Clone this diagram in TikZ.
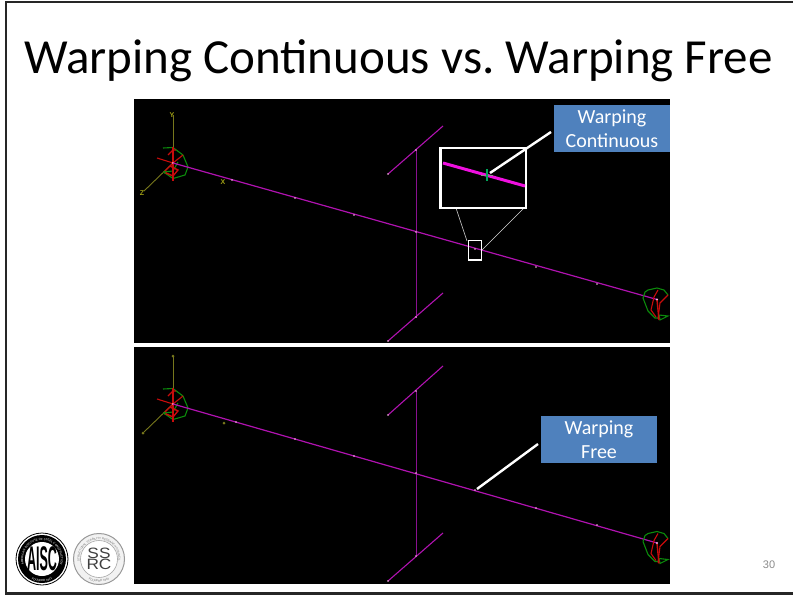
\documentclass[tikz,border=0pt]{standalone}
\usepackage{fontspec}
\setmainfont{Carlito}
\newfontfamily\arialfont{Liberation Sans}
\usepackage{tikz}
\usetikzlibrary{positioning,decorations.text}
\definecolor{beam}{HTML}{B012B0}
\definecolor{postbeam}{HTML}{8A1090}
\definecolor{brightbeam}{HTML}{F010E0}
\definecolor{callblue}{HTML}{4F81BD}
\definecolor{axisyellow}{HTML}{77771C}
\definecolor{ringgreen}{HTML}{0C8A0C}
\definecolor{handred}{HTML}{C80C0C}
\tikzset{
  callbox/.style={fill=callblue, text=white, font=\fontsize{20}{24}\selectfont, align=center, inner sep=0pt},
  panel/.style={fill=black, draw=none},
  frame/.style={line width=2.2, color=black!85},
  leader/.style={line width=2.4, color=white},
  axislabel/.style={text=axisyellow!70!yellow, font=\arialfont\bfseries\fontsize{7}{7}\selectfont, inner sep=0pt},
  ringtext/.style={decorate, decoration={text along path, text align=center, text={#1}}},
}
\newcommand{\beamdots}[1]{
\foreach \px/\py in {#1}
  \fill[white!75!magenta] (\px,\py) circle (0.8);
}
% the joint at the left end of the beam
\newcommand{\leftjoint}{
\draw[line width=1.1, color=ringgreen](163,148) -- (173,147.5) -- (183,155) -- (188,167) -- (185,175) -- (173,178.5) -- (165,173) -- (164,172) -- (173,171) -- (178,162);
\draw[line width=1.1, color=handred](157,158) -- (173,163) -- (183,155);
\draw[line width=1.1, color=handred](173,147) -- (173,181);
\draw[line width=1.4, color=handred](173,163) -- (164,172) -- (173,176) -- (178,170) -- (170,166);
\draw[line width=1.1, color=handred](168,155) -- (173,150) -- (176,150);
\fill[ringgreen](164.5,172) circle (1.5);
\fill[white!70!red](173,163) circle (1.1);
}
% the joint at the right end of the beam
\newcommand{\rightjoint}{
\draw[line width=1.1, color=ringgreen](643,298) -- (645,292) -- (648,290) -- (657,288) -- (664,290) -- (668,295);
\draw[line width=1.1, color=ringgreen](643,298) -- (648,311) -- (655,318) -- (660,318);
\draw[line width=1.1, color=ringgreen](659,315) -- (668,316) -- (660,320) -- cycle;
\draw[line width=1.1, color=handred](668,295) -- (660,303) -- (658,319);
\draw[line width=1.1, color=handred](658,290) -- (654,297) -- (651,310) -- (656,317);
\draw[line width=1.4, color=handred](657,300) -- (659,320);
\fill[white!70!magenta](657,299.5) circle (1.1);
}
\begin{document}
\begin{tikzpicture}[x=1pt, y=-1pt]
\useasboundingbox (0,0) rectangle (793,597);
\fill[white](0,0) rectangle (793,597);
\draw[frame](793,2) -- (6,2) -- (6,593.5) -- (793,593.5);
\node[font=\fontsize{49}{49}\selectfont, inner sep=0pt] (title) at (398.5,60.5) {Warping Continuous vs.\ Warping Free};
\node[font=\arialfont\fontsize{11}{11}\selectfont, text=black!45, inner sep=0pt] (pagenum) at (769,565) {30};

% top panel
\fill[panel](134,99) rectangle (670,343);
\draw[line width=0.9, color=axisyellow](173,115) -- (173,163);
\draw[line width=0.9, color=axisyellow](144,191) -- (173,163);
\node[axislabel] (ylabel) at (172,115) {Y};
\node[axislabel] (zlabel) at (142,193) {Z};
\node[axislabel] (xlabel) at (223,182) {X};
\leftjoint
\draw[line width=1, color=postbeam](416,150) -- (416,318);
\draw[line width=1.1, color=beam](388,174) -- (443,126);
\draw[line width=1.1, color=beam](388,341) -- (443,293);
\draw[line width=1.2, color=beam](173,163) -- (657,299.5);
\rightjoint
\beamdots{232/180,295/198,354/215,416/232,475/249,536/267,597/284,416/150,388/174,388/341,416/317}
% zoom box
\coordinate (boxtl) at (456,208);
\coordinate (boxtr) at (524,208);
\coordinate (smalltl) at (467,241);
\coordinate (smallr) at (482,250);
\draw[line width=0.6, color=white!85!black](boxtl) -- (smalltl);
\draw[line width=0.6, color=white!85!black](boxtr) -- (smallr);
\draw[line width=1.8, color=white](468.5,240.5) rectangle (481.5,260);
\draw[line width=2.2, color=white, fill=black](440.5,148) rectangle (526,208);
\draw[line width=3, color=brightbeam](443,163) -- (525,186);
\draw[line width=0.9, color=black!45](481,175) -- (493,175);
\draw[line width=1.1, color=teal!70!green](487,169) -- (487,181);
\node[callbox, minimum width=116, minimum height=47] (contbox) at (612,128.5) {Warping\\Continuous};
\coordinate (conttip) at (490,173);
\coordinate (contend) at (551,132);
\draw[leader](conttip) -- (contend);

% bottom panel
\fill[panel](134,347) rectangle (670,584);
\begin{scope}[yshift=-241]
\draw[line width=0.9, color=axisyellow](173,115) -- (173,163);
\draw[line width=0.9, color=axisyellow](144,191) -- (173,163);
\leftjoint
\fill[axisyellow](173,115) circle (1.5);
\fill[axisyellow](143,192) circle (1.5);
\fill[axisyellow](224,182) circle (1.5);
\end{scope}
\draw[line width=1, color=postbeam](416,391) -- (416,556);
\draw[line width=1.1, color=beam](388,415) -- (443,366);
\draw[line width=1.1, color=beam](388,581) -- (443,533);
\draw[line width=1.2, color=beam](173,404) -- (657,543);
\begin{scope}[yshift=-243.5]
\rightjoint
\end{scope}
\beamdots{236/422,295/439,354/456,416/473,475/490,536/508,597/525,416/391,388/415,388/581,416/556}
\node[callbox, minimum width=116, minimum height=47] (freebox) at (599,439.5) {Warping\\Free};
\coordinate (freetip) at (477,489);
\coordinate (freeend) at (538,444);
\draw[leader](freetip) -- (freeend);

% logos
\node[circle, draw=black, line width=0.8, minimum size=52, inner sep=0pt, fill=white] (aiscout) at (42,559) {};
\node[circle, fill=black, minimum size=48, inner sep=0pt] (aiscring) at (42,559) {};
\node[circle, fill=white, minimum size=34, inner sep=0pt] (aiscin) at (42,559) {};
\node[font=\arialfont\bfseries\fontsize{19}{19}\selectfont, inner sep=0pt, xscale=0.66, yscale=1.8] (aisctext) at (42,559) {AISC};
\begin{scope}[shift={(42,559)}, y=1pt]
\path[ringtext={|\arialfont\fontsize{2.9}{2.9}\selectfont\color{white}|AMERICAN INSTITUTE OF STEEL CONSTRUCTION}] (200:18.8) arc[start angle=200, end angle=-20, radius=18.8];
\path[ringtext={|\arialfont\fontsize{2.9}{2.9}\selectfont\color{white}|FOUNDED 1921}] (-125:22.8) arc[start angle=-125, end angle=-55, radius=22.8];
\end{scope}
\node[circle, draw=black!40, line width=1, minimum size=51, inner sep=0pt, fill=black!5] (ssrcout) at (99,559) {};
\node[circle, draw=black!35, line width=0.6, minimum size=37, inner sep=0pt, fill=white] (ssrcin) at (99,559) {};
\begin{scope}[shift={(99,559)}, y=1pt]
\path[ringtext={|\arialfont\fontsize{2.9}{2.9}\selectfont\color{black!55}|STRUCTURAL STABILITY RESEARCH COUNCIL}] (200:19.4) arc[start angle=200, end angle=-20, radius=19.4];
\path[ringtext={|\arialfont\fontsize{2.9}{2.9}\selectfont\color{black!55}|FOUNDED 1944}] (-125:23) arc[start angle=-125, end angle=-55, radius=23];
\end{scope}
\node[font=\arialfont\fontsize{15}{11.5}\selectfont, text=black!75, align=center, inner sep=0pt, xscale=1.15] (ssrctext) at (99,559) {SS\\RC};
\end{tikzpicture}
\end{document}
